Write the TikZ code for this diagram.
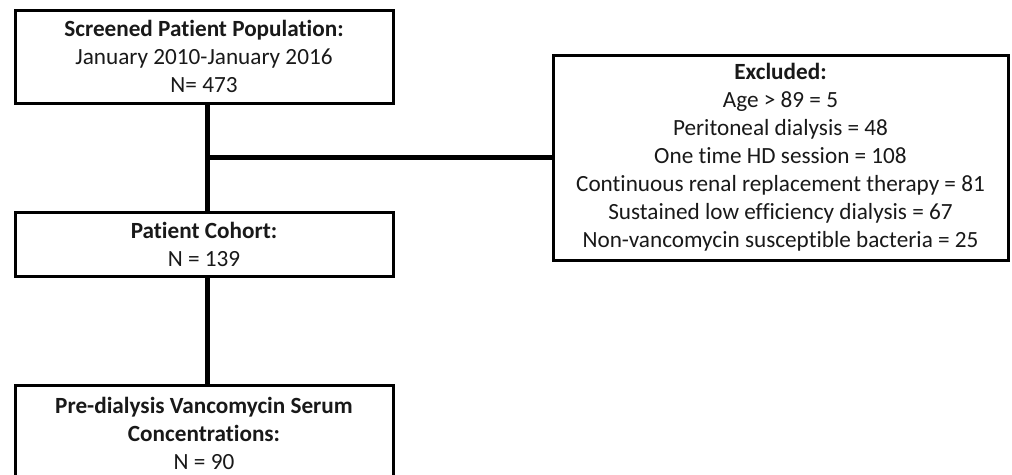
\documentclass[tikz,border=0pt]{standalone}
\usepackage{fontspec}
\setmainfont[Ligatures=NoCommon]{Carlito}
\begin{document}
\begin{tikzpicture}[x=1pt,y=-1pt,
  box/.style={draw=black,line width=3pt,fill=white,align=center,inner sep=0pt,
    font=\fontsize{23.2}{28}\selectfont,text=black!90},
  conn/.style={line width=5pt,black}]
\useasboundingbox (0,0) rectangle (1012,474);
\clip (0,0) rectangle (1012,474);
\fill[white] (0,0) rectangle (1012,474);
\coordinate (j) at (207,157);
\node[box,minimum width=378pt,minimum height=93pt] (b1) at (204,56.5)
  {\textbf{Screened Patient Population:}\\January 2010-January 2016\\N= 473};
\node[box,minimum width=455pt,minimum height=205pt] (b2) at (780.5,157.5)
  {\textbf{Excluded:}\\Age > 89 = 5\\Peritoneal dialysis = 48\\One time HD session = 108\\Continuous renal replacement therapy = 81\\Sustained low efficiency dialysis = 67\\Non-vancomycin susceptible bacteria = 25};
\node[box,minimum width=378pt,minimum height=64pt] (b3) at (204,244)
  {\textbf{Patient Cohort:}\\N = 139};
\node[box,minimum width=378pt,minimum height=96pt] (b4) at (204,433)
  {\textbf{Pre-dialysis Vancomycin Serum}\\\textbf{Concentrations:}\\N = 90};
\draw[conn] (b1.south -| j) -- (b3.north -| j);
\draw[conn] (b3.south -| j) -- (b4.north -| j);
\draw[conn] (j) -- (b2.west |- j);
\end{tikzpicture}
\end{document}
